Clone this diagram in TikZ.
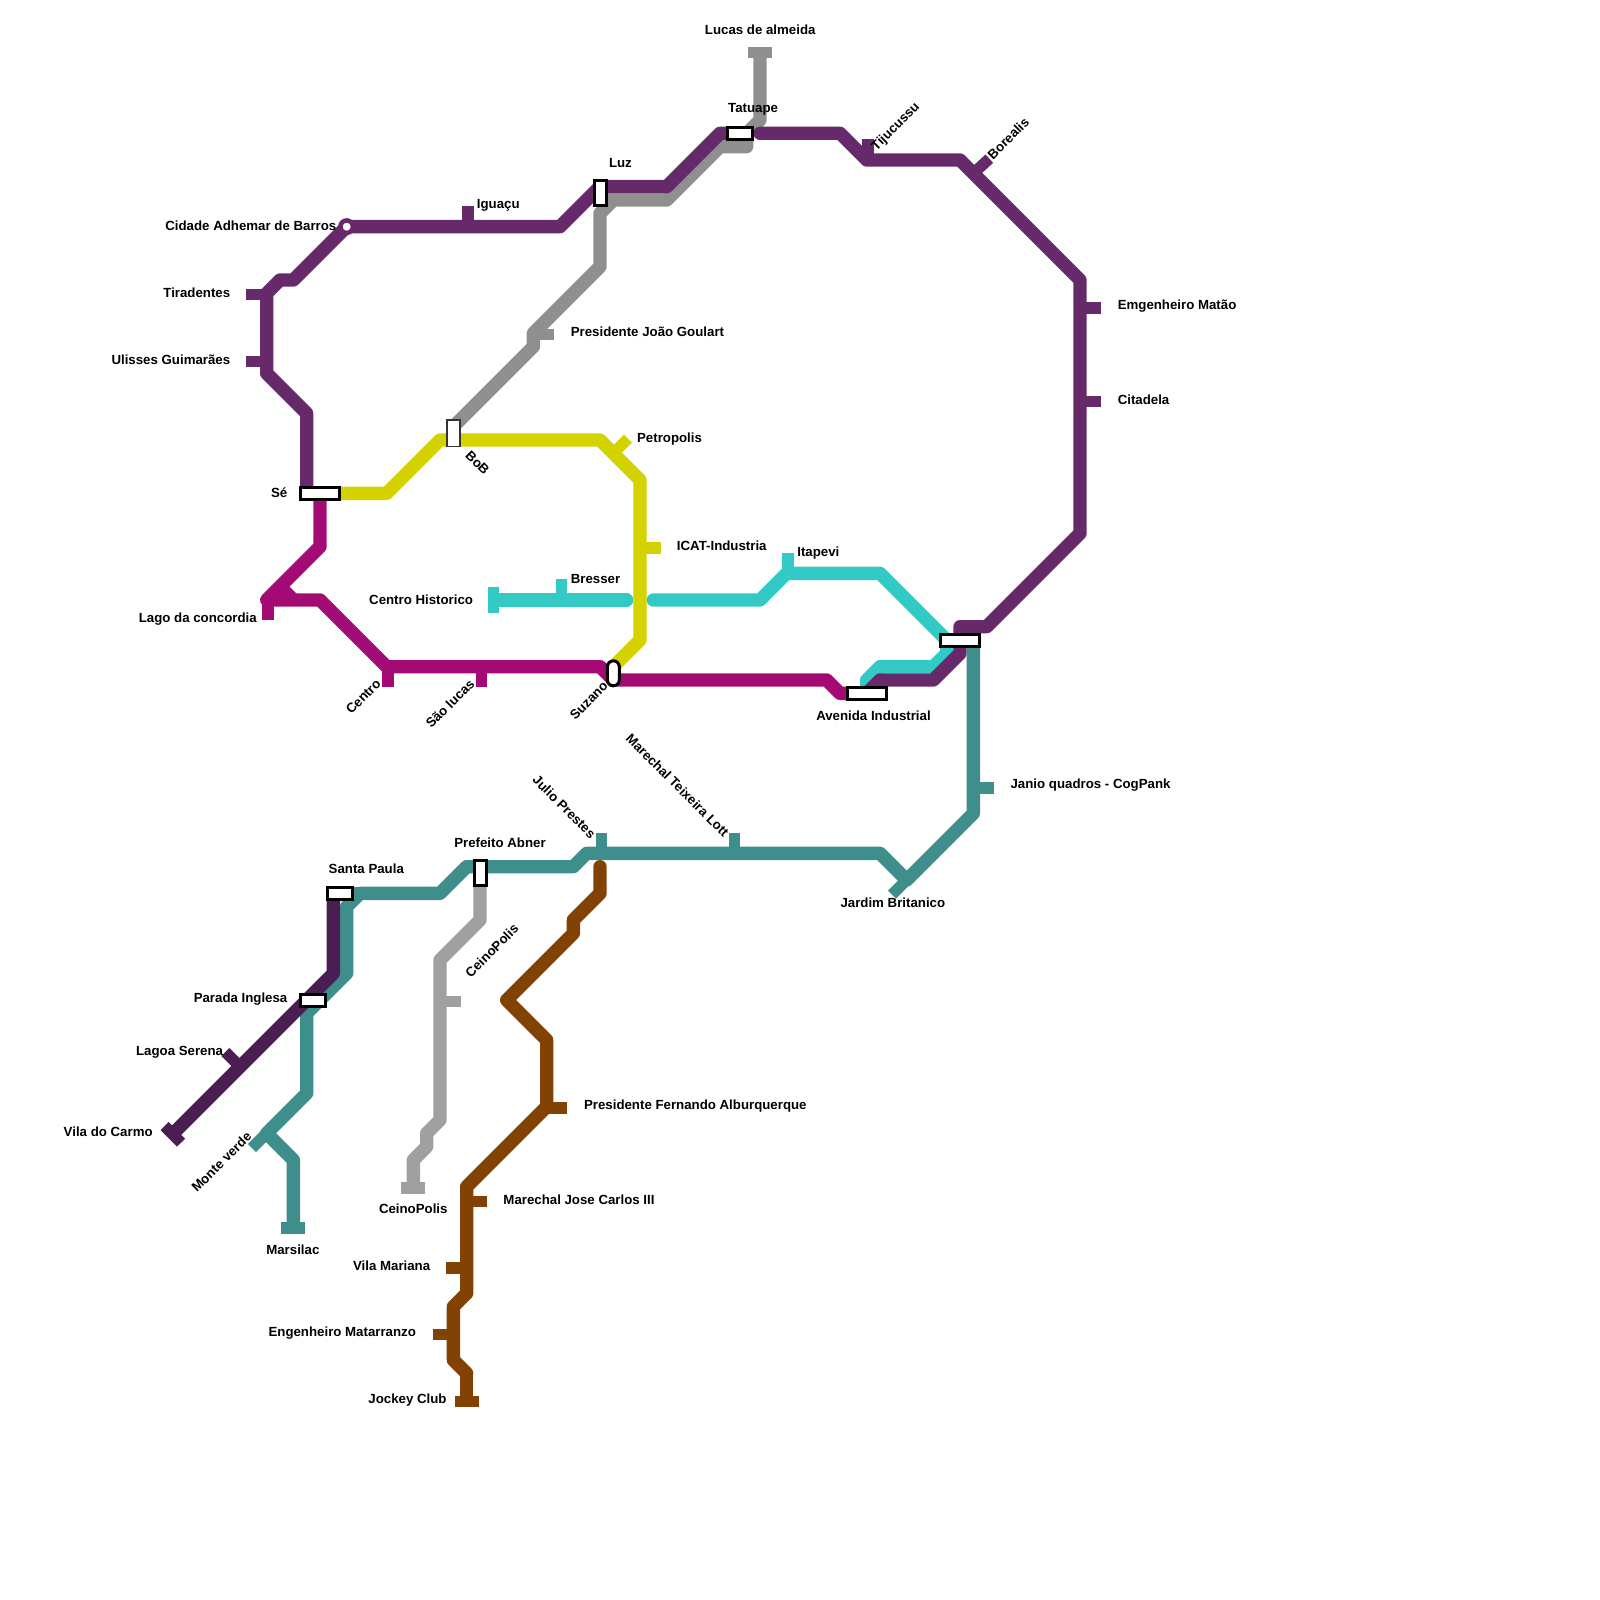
\documentclass[tikz,border=0pt]{standalone}
\usepackage{fontspec}
\setmainfont{Liberation Sans}
\definecolor{cP}{HTML}{662A6B}
\definecolor{cM}{HTML}{A30A73}
\definecolor{cY}{HTML}{D4D300}
\definecolor{cC}{HTML}{33C9C4}
\definecolor{cT}{HTML}{3E8E8C}
\definecolor{cB}{HTML}{824204}
\definecolor{cG}{HTML}{8F8F8F}
\definecolor{cL}{HTML}{A0A0A0}
\definecolor{cD}{HTML}{4A1E53}
\tikzset{
 metro/.style={line width=6.667pt,line join=round,draw=#1},
 metroend/.style={metro=#1,line cap=round},
 tick/.style={line width=5.67pt,draw=#1},
 stn/.style={draw=black,fill=white,line width=1.5pt,inner sep=0pt,outer sep=0pt,rectangle},
 stnW/.style={stn,minimum width=12.5pt,minimum height=6pt},
 stnWW/.style={stn,minimum width=19.5pt,minimum height=6pt},
 stnT/.style={stn,minimum width=6pt,minimum height=12.5pt},
 stnR/.style={stnT,rounded corners=3pt},
 stnThin/.style={stn,line width=0.8pt,draw=black!80,minimum width=6.5pt,minimum height=13.2pt},
 lab/.style={font=\fontsize{6.63pt}{7pt}\selectfont\bfseries,inner sep=0pt,text=black},
 le/.style={lab,anchor=west},
 lw/.style={lab,anchor=east},
 lc/.style={lab,anchor=center},
 lu/.style={lab,anchor=center,rotate=45},
 ld/.style={lab,anchor=center,rotate=-45},
}
\begin{document}
\begin{tikzpicture}[x=6.66667pt,y=-6.66667pt]
\useasboundingbox (0,0) rectangle (120,120);
% station positions
\coordinate (pSe) at (24,37);
\coordinate (pLuz) at (45,14.5);
\coordinate (pTat) at (55.5,10);
\coordinate (pBob) at (34,32.5);
\coordinate (pSuz) at (46,50.5);
\coordinate (pAve) at (65,52);
\coordinate (pHub) at (72,48);
\coordinate (pSan) at (25.5,67);
\coordinate (pPre) at (36,65.5);
\coordinate (pPar) at (23.5,75);
\coordinate (pAdh) at (26,17);
\coordinate (pLucas) at (57,3.93);
\coordinate (pVila) at (13,85);
\coordinate (pMars) at (22,92.1);
\coordinate (pCein) at (31,89.1);
\coordinate (pJock) at (35,105.1);
\coordinate (pHist) at (37,45);
% gray line
\draw[metro=cG] (pLucas) -- (57,9) -- (56,10) -- (56,11) -- (54,11) -- (50,15) -- (46,15) -- (45,16) -- (45,20) -- (40,25) -- (40,26) -- (34,32);
\draw[metro=cG] (pLuz) ++(0,0.5) -- (46,15);
\draw[tick=cG] (40,25.1) -- (41.55,25.1);
\draw[tick=cG] (56.1,3.93) -- (57.9,3.93);
% yellow line
\draw[metro=cY] (pSe) -- (29,37) -- (33,33) -- (45,33) -- (48,36) -- (48,48) -- (46,50);
\draw[tick=cY] (46,34) -- (47.1,32.9);
\draw[tick=cY] (48,41.1) -- (49.55,41.1);
% magenta line
\draw[metro=cM] (pSe) -- (24,41) -- (20,45) -- (24,45) -- (29,50) -- (45,50) -- (46,51) -- (62,51) -- (63,52) -- (pAve);
\draw[metro=cM] (21,44) -- (22,45);
\draw[tick=cM] (20.1,45) -- (20.1,46.5);
\draw[tick=cM] (29.1,50) -- (29.1,51.5);
\draw[tick=cM] (36.1,50) -- (36.1,51.5);
% cyan line
\draw[metroend=cC,line cap=butt] (pHist) -- (46,45);
\draw[metroend=cC] (46,45) -- (47,45);
\draw[metroend=cC] (49,45) -- (57,45) -- (59,43) -- (66,43) -- (71,48) -- (71,49) -- (70,50) -- (66,50) -- (65,51) -- (pAve);
\draw[tick=cC] (37,44) -- (37,46);
\draw[tick=cC] (42.1,45) -- (42.1,43.45);
\draw[tick=cC] (59.1,43) -- (59.1,41.45);
% purple line
\draw[metro=cP] (23,37) -- (23,31) -- (20,28) -- (20,22) -- (21,21) -- (22,21) -- (pAdh) -- (42,17) -- (45,14) -- (50,14) -- (54,10) -- (pTat);
\draw[metroend=cP] (57,10) -- (63,10) -- (65,12) -- (72,12) -- (81,21) -- (81,40) -- (74,47) -- (72,47) -- (72,49) -- (70,51) -- (66,51) -- (pAve);
\draw[tick=cP] (35.1,17) -- (35.1,15.45);
\draw[tick=cP] (20,22.1) -- (18.45,22.1);
\draw[tick=cP] (20,27.1) -- (18.45,27.1);
\draw[tick=cP] (65.1,12) -- (65.1,10.45);
\draw[tick=cP] (73,13) -- (74.2,11.9);
\draw[tick=cP] (81,23.1) -- (82.55,23.1);
\draw[tick=cP] (81,30.1) -- (82.55,30.1);
% light gray line
\draw[metro=cL] (pPre) -- (36,69) -- (33,72) -- (33,84) -- (32,85) -- (32,86) -- (31,87) -- (pCein);
\draw[tick=cL] (33,75.1) -- (34.55,75.1);
\draw[tick=cL] (30.1,89.1) -- (31.9,89.1);
% dark teal line
\draw[metro=cT] (pHub) ++(1,0) -- (73,61) -- (68,66) -- (66,64) -- (44,64) -- (43,65) -- (35,65) -- (33,67) -- (27,67) -- (26,68) -- (26,73) -- (23,76) -- (23,82) -- (20,85) -- (22,87) -- (pMars);
\draw[metro=cT] (pSan) -- (27,67);
\draw[tick=cT] (68,66) -- (66.9,67.1);
\draw[tick=cT] (45.1,64) -- (45.1,62.45);
\draw[tick=cT] (55.1,64) -- (55.1,62.45);
\draw[tick=cT] (73,59.1) -- (74.55,59.1);
\draw[tick=cT] (20,85) -- (18.9,86.1);
\draw[tick=cT] (21.1,92.1) -- (22.9,92.1);
% dark purple line
\draw[metro=cD] (25,67) -- (25,73) -- (pVila);
\draw[tick=cD] (12.34,84.45) -- (13.58,85.7);
\draw[tick=cD] (18,80) -- (16.9,78.9);
% brown line
\draw[metroend=cB] (45,65) -- (45,67) -- (43,69) -- (43,70) -- (38,75) -- (41,78) -- (41,83) -- (35,89) -- (35,97) -- (34,98) -- (34,102) -- (35,103);
\draw[metro=cB] (35,102.9) -- (pJock);
\draw[tick=cB] (34.1,105.1) -- (35.9,105.1);
\draw[tick=cB] (41,83.1) -- (42.55,83.1);
\draw[tick=cB] (35,90.1) -- (36.55,90.1);
\draw[tick=cB] (35,95.1) -- (33.45,95.1);
\draw[tick=cB] (34,100.1) -- (32.45,100.1);
% stations
\node[circle,draw=cP,line width=2.25pt,fill=white,inner sep=0pt,outer sep=0pt,minimum size=6.25pt] (sAdh) at (pAdh) {};
\node[stnWW] (sSe) at (pSe) {};
\node[stnT] (sLuz) at (pLuz) {};
\node[stnW] (sTat) at (pTat) {};
\node[stnThin] (sBob) at (pBob) {};
\node[stnR] (sSuz) at (pSuz) {};
\node[stnWW] (sAve) at (pAve) {};
\node[stnWW] (sHub) at (pHub) {};
\node[stnW] (sSan) at (pSan) {};
\node[stnT] (sPre) at (pPre) {};
\node[stnW] (sPar) at (pPar) {};
% labels, placed in the 1568 px frame
\begin{scope}[x=0.510204pt,y=-0.510204pt,yshift=-0.3pt]
\node[lc] (t1) at (745,29) {Lucas de almeida};
\node[lc] (t2) at (738,107) {Tatuape};
\node[lc] (t3) at (608,159) {Luz};
\node[lu] (t4) at (878,124) {Tijucussu};
\node[lu] (t5) at (988,135) {Borealis};
\node[le] (t6) at (467,201) {Iguaçu};
\node[lw] (t7) at (330,221) {Cidade Adhemar de Barros};
\node[lw] (t8) at (226,286) {Tiradentes};
\node[lw] (t9) at (226,352) {Ulisses Guimarães};
\node[le] (t10) at (1095,299) {Emgenheiro Matão};
\node[le] (t11) at (1095,391) {Citadela};
\node[le] (t12) at (559,325) {Presidente João Goulart};
\node[le] (t13) at (624,430) {Petropolis};
\node[ld] (t14) at (468,453) {BoB};
\node[lw] (t15) at (282,482) {Sé};
\node[le] (t16) at (663,534) {ICAT-Industria};
\node[le] (t17) at (559,567) {Bresser};
\node[le] (t18) at (781,541) {Itapevi};
\node[lw] (t19) at (464,587) {Centro Historico};
\node[lw] (t20) at (252,606) {Lago da concordia};
\node[lu] (t21) at (356,682) {Centro};
\node[lu] (t22) at (441,689) {São lucas};
\node[lu] (t23) at (577,686) {Suzano};
\node[lc] (t24) at (856,701) {Avenida Industrial};
\node[le] (t25) at (990,769) {Janio quadros - CogPank};
\node[ld] (t26) at (664,769) {Marechal Teixeira Lott};
\node[ld] (t27) at (553,790) {Julio Prestes};
\node[lc] (t28) at (490,825) {Prefeito Abner};
\node[lc] (t29) at (359,851) {Santa Paula};
\node[lc] (t30) at (875,884) {Jardim Britanico};
\node[lu] (t31) at (482,931) {CeinoPolis};
\node[lw] (t32) at (282,979) {Parada Inglesa};
\node[lw] (t33) at (219,1031) {Lagoa Serena};
\node[lw] (t34) at (150,1109) {Vila do Carmo};
\node[lu] (t35) at (217,1138) {Monte verde};
\node[lc] (t36) at (405,1184) {CeinoPolis};
\node[lc] (t37) at (287,1224) {Marsilac};
\node[le] (t38) at (572,1083) {Presidente Fernando Alburquerque};
\node[le] (t39) at (493,1175) {Marechal Jose Carlos III};
\node[lw] (t40) at (422,1240) {Vila Mariana};
\node[lw] (t41) at (408,1306) {Engenheiro Matarranzo};
\node[lw] (t42) at (438,1371) {Jockey Club};
\end{scope}
\end{tikzpicture}
\end{document}
